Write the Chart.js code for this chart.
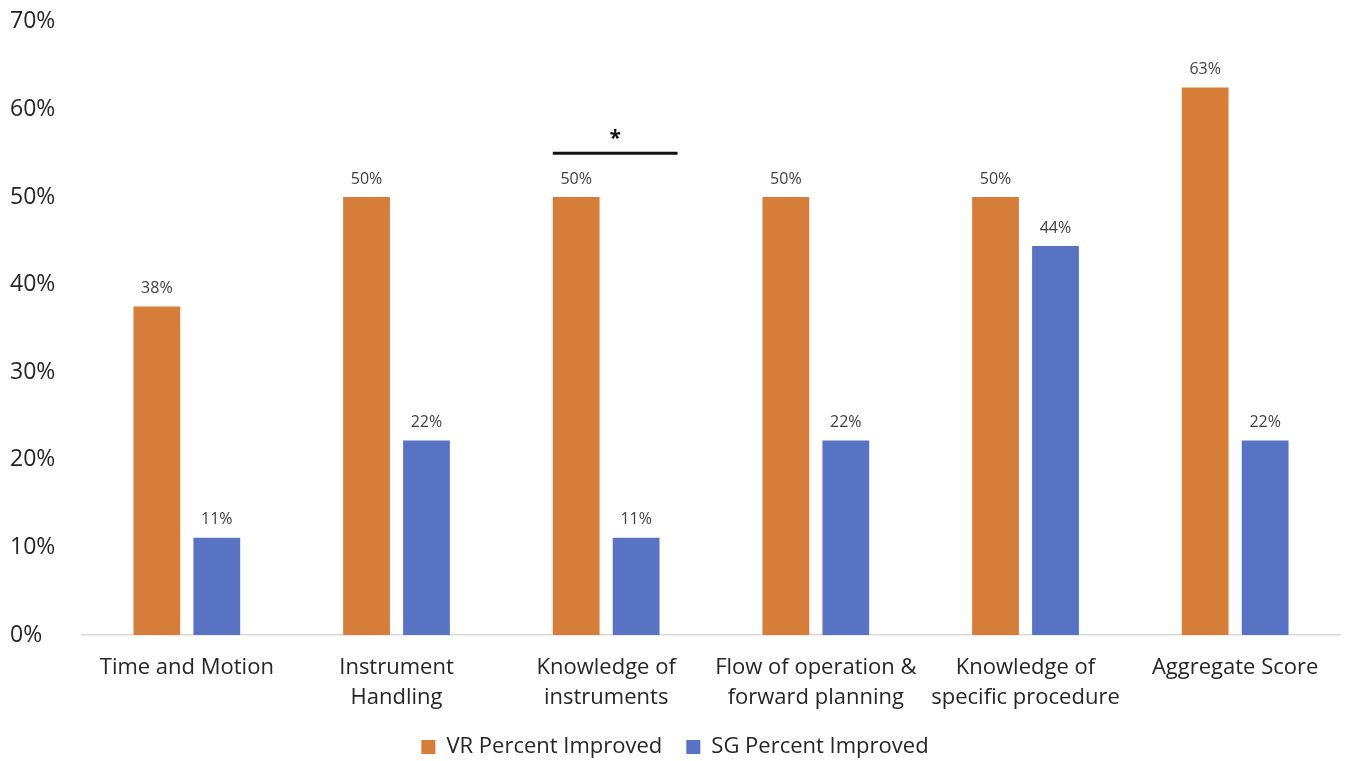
<!DOCTYPE html>
<html>
<head>
<meta charset="utf-8">
<script src="https://cdn.jsdelivr.net/npm/chart.js@4.4.1/dist/chart.umd.min.js"></script>
<style>
  html, body { margin: 0; padding: 0; background: #fff; }
  #wrap { width: 1354px; height: 761px; position: relative; }
</style>
</head>
<body>
<div id="wrap"><canvas id="chart"></canvas></div>
<script>
const categories = [
  ['Time and Motion'],
  ['Instrument', 'Handling'],
  ['Knowledge of', 'instruments'],
  ['Flow of operation &', 'forward planning'],
  ['Knowledge of', 'specific procedure'],
  ['Aggregate Score']
];
const vrValues = [37.5, 50, 50, 50, 50, 62.5];
const sgValues = [11.1, 22.2, 11.1, 22.2, 44.4, 22.2];
const seriesNames = ['VR Percent Improved', 'SG Percent Improved'];
const yTicks = [0, 10, 20, 30, 40, 50, 60, 70];
// significance marker: category index and height (%)
const sigIndex = 2;
const sigLevel = 55;

const fontFamily = '"Open Sans", "Liberation Sans", sans-serif';
const textColor = '#262626';

// labels above each bar
const barLabels = {
  id: 'barLabels',
  afterDatasetsDraw(chart) {
    const ctx = chart.ctx;
    ctx.save();
    ctx.font = '16px ' + fontFamily;
    ctx.fillStyle = '#404040';
    ctx.textAlign = 'center';
    ctx.textBaseline = 'bottom';
    chart.data.datasets.forEach((ds, i) => {
      chart.getDatasetMeta(i).data.forEach((bar, j) => {
        ctx.fillText(Math.round(ds.data[j]) + '%', bar.x, bar.y - 10);
      });
    });
    ctx.restore();
  }
};

// significance bar with asterisk
const sigMarker = {
  id: 'sigMarker',
  afterDatasetsDraw(chart) {
    const ctx = chart.ctx;
    const a = chart.getDatasetMeta(0).data[sigIndex];
    const b = chart.getDatasetMeta(1).data[sigIndex];
    const y = chart.scales.y.getPixelForValue(sigLevel);
    const x0 = a.x - a.width / 2;
    const x1 = b.x + b.width / 2 + 18;
    ctx.save();
    ctx.strokeStyle = '#111';
    ctx.lineWidth = 3;
    ctx.beginPath();
    ctx.moveTo(x0, y);
    ctx.lineTo(x1, y);
    ctx.stroke();
    ctx.font = 'bold 21px ' + fontFamily;
    ctx.fillStyle = '#111';
    ctx.textAlign = 'center';
    ctx.textBaseline = 'middle';
    ctx.fillText('*', (x0 + x1) / 2, y - 14);
    ctx.restore();
  }
};

new Chart(document.getElementById('chart'), {
  type: 'bar',
  data: {
    labels: categories,
    datasets: [
      { label: seriesNames[0], data: vrValues, backgroundColor: '#d67d3a' },
      { label: seriesNames[1], data: sgValues, backgroundColor: '#5873c4' }
    ]
  },
  options: {
    responsive: true,
    maintainAspectRatio: false,
    animation: false,
    categoryPercentage: 0.572,
    barPercentage: 0.78,
    layout: { padding: { top: 21, left: 10, right: 14, bottom: -7 } },
    plugins: {
      tooltip: { enabled: false },
      legend: {
        position: 'bottom',
        labels: {
          font: { family: fontFamily, size: 22 },
          color: textColor,
          boxWidth: 14,
          boxHeight: 14,
          padding: 24
        }
      }
    },
    scales: {
      x: {
        grid: { display: false },
        border: { color: '#d9d9d9', width: 1.5 },
        ticks: {
          font: { family: fontFamily, size: 22, lineHeight: 1.4 },
          color: textColor,
          padding: 9,
          maxRotation: 0,
          autoSkip: false
        },
        afterFit(scale) { scale.height = 77; }
      },
      y: {
        min: 0,
        max: 70,
        afterBuildTicks(scale) { scale.ticks = yTicks.map(v => ({ value: v })); },
        grid: { display: false },
        border: { display: false },
        ticks: {
          font: { family: fontFamily, size: 23 },
          color: textColor,
          crossAlign: 'far',
          padding: 8,
          callback: v => v + '%'
        },
        afterFit(scale) { scale.width = 72; }
      }
    }
  },
  plugins: [barLabels, sigMarker]
});
</script>
</body>
</html>
